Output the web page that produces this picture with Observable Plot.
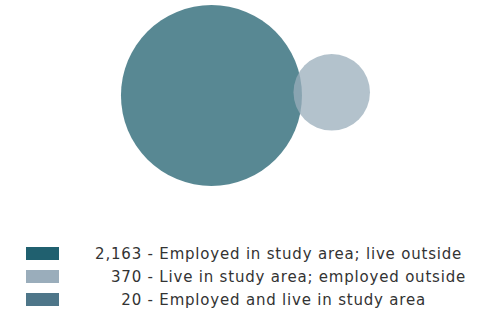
<!DOCTYPE html>
<html>
<head>
<meta charset="utf-8">
<script src="https://cdn.jsdelivr.net/npm/d3@7"></script>
<script src="https://cdn.jsdelivr.net/npm/@observablehq/plot@0.6"></script>
<style>
  html, body { margin: 0; padding: 0; background: #fff; }
  #wrap { position: relative; width: 500px; height: 313px; overflow: hidden; font-family: "DejaVu Sans", Verdana, sans-serif; }
  #chart { position: absolute; left: 0; top: 0; }
  #legend { position: absolute; left: 0; top: 242px; width: 500px; }
  .row { display: flex; align-items: center; height: 23px; font-size: 15px; letter-spacing: 0.8px; color: #333; white-space: pre; }
  .sw { margin-left: 26px; width: 33px; height: 13px; flex: none; }
  .num { width: 83px; text-align: right; flex: none; }
</style>
</head>
<body>
<div id="wrap">
  <div id="chart"></div>
  <div id="legend"></div>
</div>
<script>
// ---- data ----
const categories = [
  "Employed in study area; live outside",
  "Live in study area; employed outside",
  "Employed and live in study area"
];
const values = [2163, 370, 20];
const valueLabels = ["2,163", "370", "20"];
// ---- styles ----
const swatchColors = ["#20606f", "#9aadbb", "#4e7689"];

// circle totals (each circle includes the overlap)
const circles = [
  {name: "Employed in study area", total: values[0] + values[2], fill: swatchColors[0]},
  {name: "Live in study area", total: values[1] + values[2], fill: swatchColors[1]}
];
const overlap = values[2];

const W = 500, H = 200, maxR = 90.5;
const rDomain = [0, d3.max(circles, d => d.total)];
const rPx = d3.scaleSqrt().domain(rDomain).range([0, maxR]);
const r1 = rPx(circles[0].total), r2 = rPx(circles[1].total);
const k = (r1 * r1) / circles[0].total; // px^2 per unit (area ∝ value)
const targetArea = Math.PI * k * overlap;

function lens(d) {
  if (d >= r1 + r2) return 0;
  if (d <= Math.abs(r1 - r2)) return Math.PI * Math.min(r1, r2) ** 2;
  const a1 = Math.acos((d * d + r1 * r1 - r2 * r2) / (2 * d * r1));
  const a2 = Math.acos((d * d + r2 * r2 - r1 * r1) / (2 * d * r2));
  return r1 * r1 * a1 + r2 * r2 * a2 -
    0.5 * Math.sqrt((-d + r1 + r2) * (d + r1 - r2) * (d - r1 + r2) * (d + r1 + r2));
}
let lo = Math.abs(r1 - r2), hi = r1 + r2;
for (let i = 0; i < 60; i++) {
  const mid = (lo + hi) / 2;
  if (lens(mid) > targetArea) lo = mid; else hi = mid;
}
const dist = (lo + hi) / 2;
const angle = -1.5 * Math.PI / 180;
const spanCenter = 245, cy = 95;
const span = r1 + dist + r2;
circles[0].cx = spanCenter - span / 2 + r1;
circles[0].cy = cy;
circles[1].cx = circles[0].cx + dist * Math.cos(angle);
circles[1].cy = cy + dist * Math.sin(angle);

const plot = Plot.plot({
  width: W,
  height: H,
  margin: 0,
  x: {type: "identity", axis: null},
  y: {type: "identity", axis: null},
  r: {type: "sqrt", domain: rDomain, range: [0, maxR]},
  marks: [
    Plot.dot([circles[0]], {x: "cx", y: "cy", r: "total", fill: circles[0].fill, fillOpacity: 0.75}),
    Plot.dot([circles[1]], {x: "cx", y: "cy", r: "total", fill: circles[1].fill, fillOpacity: 0.75})
  ]
});
document.getElementById("chart").appendChild(plot);

const legend = document.getElementById("legend");
categories.forEach((c, i) => {
  const row = document.createElement("div");
  row.className = "row";
  const sw = document.createElement("div");
  sw.className = "sw";
  sw.style.background = swatchColors[i];
  const num = document.createElement("span");
  num.className = "num";
  num.textContent = valueLabels[i];
  const lab = document.createElement("span");
  lab.textContent = " - " + c;
  row.append(sw, num, lab);
  legend.appendChild(row);
});
</script>
</body>
</html>
